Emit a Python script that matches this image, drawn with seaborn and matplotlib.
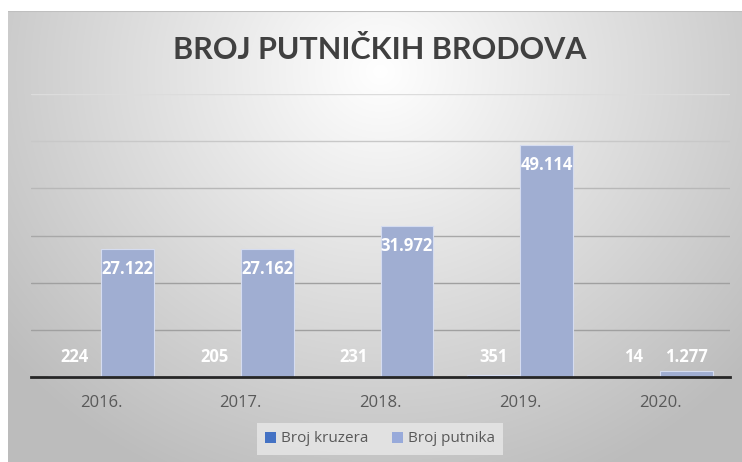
import numpy as np
import pandas as pd
import matplotlib
matplotlib.use("Agg")
import matplotlib.pyplot as plt
from matplotlib.patches import Patch
import seaborn as sns

godine = ["2016.", "2017.", "2018.", "2019.", "2020."]
broj_kruzera = [224, 205, 231, 351, 14]
broj_putnika = [27122, 27162, 31972, 49114, 1277]

serije = ["Broj kruzera", "Broj putnika"]
boje = {"Broj kruzera": "#4472C4", "Broj putnika": "#98AADA"}

df = pd.DataFrame({
    "godina": godine * 2,
    "serija": [serije[0]] * len(godine) + [serije[1]] * len(godine),
    "vrijednost": broj_kruzera + broj_putnika,
})

sns.set_theme(style="white")
plt.rcParams["font.family"] = ["Lato", "DejaVu Sans"]

fig = plt.figure(figsize=(7.42, 4.62), dpi=100)
fig.patch.set_facecolor("white")

# pozadina s radijalnim prijelazom (kao u Excelu)
bg = fig.add_axes([8 / 742, 0, 1 - 8 / 742, (462 - 11) / 462], zorder=0)
yy, xx = np.mgrid[0:451, 0:734]
cx, cy = 372, 60
r = np.sqrt(((xx - cx) / 520.0) ** 2 + ((yy - cy) / 480.0) ** 2)
shade = np.clip(1.0 - 0.28 * r, 0.74, 1.0)
bg.imshow(np.dstack([shade] * 3), aspect="auto", extent=[0, 1, 0, 1], origin="upper")
bg.axhline(1, color="#BFBFBF", lw=1.5)
bg.set_axis_off()

ax = fig.add_axes([31 / 742, 85 / 462, 699 / 742, 283 / 462], zorder=1)
ax.patch.set_alpha(0)

sns.barplot(data=df, x="godina", y="vrijednost", hue="serija", palette=boje,
            width=0.757, ax=ax, legend=False, edgecolor="#D5DCF0", linewidth=0.8)

ax.set_xlim(-0.5, 4.5)
ax.set_ylim(0, 60000)
ax.set_yticks(range(0, 60001, 10000))
ax.set_xlabel("")
ax.set_ylabel("")
ax.set_yticklabels([])
ax.tick_params(axis="y", length=0)
ax.tick_params(axis="x", length=0, labelsize=12, colors="#595959", pad=13)
for lab in ax.get_xticklabels():
    lab.set_fontfamily(["Open Sans", "DejaVu Sans"])

for s in ["top", "right", "left"]:
    ax.spines[s].set_visible(False)
ax.spines["bottom"].set_color("#262626")
ax.spines["bottom"].set_linewidth(2)
ax.spines["bottom"].set_zorder(5)

boje_mreze = ["#A0A0A0", "#A0A0A0", "#A8A8A8", "#B8B8B8", "#C8C8C8", "#DCDCDC"]
for y, c in zip(range(10000, 60001, 10000), boje_mreze):
    ax.axhline(y, color=c, lw=1, zorder=0)

# oznake vrijednosti
pad = 4250
for cont in ax.containers:
    for bar in cont:
        h = bar.get_height()
        yl = max(h - pad, pad)
        ax.text(bar.get_x() + bar.get_width() / 2, yl, f"{int(h):,}".replace(",", "."),
                ha="center", va="center", color="white", fontsize=12,
                fontweight="bold", family=["Open Sans", "DejaVu Sans"], zorder=6)

fig.text(380 / 742, 1 - 50 / 462, "BROJ PUTNIČKIH BRODOVA", ha="center", va="center",
         fontsize=22, fontweight="bold", color="#404040")

ruke = [Patch(facecolor=boje[s], edgecolor="none", label=s) for s in serije]
leg = fig.legend(handles=ruke, loc="center", bbox_to_anchor=(380 / 742, 1 - 439 / 462),
                 ncol=2, frameon=True, fontsize=11, handlelength=0.7, handleheight=0.7,
                 handletextpad=0.3, columnspacing=1.6, borderpad=0.55, fancybox=False)
leg.get_frame().set_facecolor("#E8E8E8")
leg.get_frame().set_alpha(0.8)
leg.get_frame().set_edgecolor("none")
for t in leg.get_texts():
    t.set_color("#595959")
    t.set_fontfamily(["Open Sans", "DejaVu Sans"])

fig.savefig("out.png", dpi=100)
